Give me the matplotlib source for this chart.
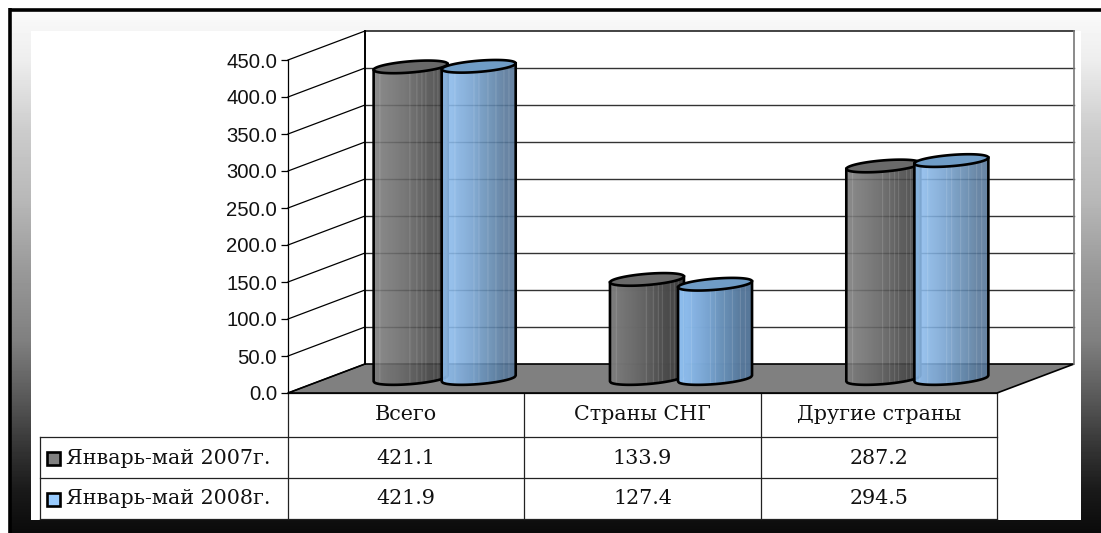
import numpy as np
import matplotlib
matplotlib.use('Agg')
import matplotlib.pyplot as plt
from matplotlib.colors import LinearSegmentedColormap
from matplotlib.collections import PolyCollection
from matplotlib.patches import Polygon, Rectangle
from matplotlib.transforms import Affine2D, IdentityTransform

categories = ['Всего', 'Страны СНГ', 'Другие страны']
series_names = ['Январь-май 2007г.', 'Январь-май 2008г.']
values_2007 = [421.1, 133.9, 287.2]
values_2008 = [421.9, 127.4, 294.5]
ticks = [0, 50, 100, 150, 200, 250, 300, 350, 400, 450]

W, H = 1101, 533
fig = plt.figure(figsize=(W / 100, H / 100), dpi=100, facecolor='white')

# page chrome in pixel coordinates
bg = fig.add_axes([0, 0, 1, 1])
bg.set_xlim(0, W); bg.set_ylim(H, 0); bg.axis('off')
stops = [(10, .98), (60, .93), (130, .80), (200, .72), (270, .60), (340, .50),
         (400, .34), (450, .20), (490, .10), (533, .04)]
ys = np.arange(10, 533)
grad = np.interp(ys, [s[0] for s in stops], [s[1] for s in stops])[:, None]
bg.imshow(grad, extent=(9, W, 533, 10), cmap='gray', vmin=0, vmax=1, aspect='auto', zorder=0)
bg.set_xlim(0, W); bg.set_ylim(H, 0)
bg.plot([10, W], [9.5, 9.5], color='black', lw=2.6, zorder=1, solid_capstyle='butt')
bg.plot([10, 10], [8, 533], color='black', lw=2.6, zorder=1, solid_capstyle='butt')
bg.add_patch(Rectangle((31, 31), 1050, 489, fc='white', ec='none', zorder=1))

# front plane of the 3-D box
FL, FR, FB, FT = 288, 997, 393, 60
DX, DY = 77, 29
ax = fig.add_axes([FL / W, 1 - FB / H, (FR - FL) / W, (FB - FT) / H])
ax.patch.set_alpha(0)
ax.set_xlim(0, 3); ax.set_ylim(0, 450)
for s in ax.spines.values():
    s.set_visible(False)
ax.spines['left'].set_visible(True)
ax.spines['left'].set_linewidth(0.9)
ax.set_xticks([])
ax.set_yticks(ticks)
ax.set_yticklabels([f'{t:.1f}' for t in ticks], family='Liberation Sans', fontsize=14.6, color='#111111')
ax.tick_params(axis='y', length=5, width=0.9, pad=3)

back = ax.transData + Affine2D().translate(DX, DY)
mid = ax.transData + Affine2D().translate(DX / 2, DY / 2)
px = IdentityTransform()

def P(x, y, tr=None):
    return (tr or ax.transData).transform((x, y))

# floor
floor = [P(0, 0), P(3, 0), P(3, 0, back), P(0, 0, back)]
ax.add_patch(Polygon(floor, closed=True, fc='#808080', ec='black', lw=1.2, transform=px, clip_on=False, zorder=1))
# back wall
for t in ticks[1:-1]:
    ax.plot([0, 3], [t, t], color='#333333', lw=1.0, transform=back, clip_on=False, zorder=1)
ax.plot([0, 3], [450, 450], color='#111111', lw=1.1, transform=back, clip_on=False, zorder=1)
ax.plot([0, 0], [0, 450], color='black', lw=1.4, transform=back, clip_on=False, zorder=1)
ax.plot([3, 3], [0, 450], color='#777777', lw=1.2, transform=back, clip_on=False, zorder=1)
# side wall
for t in ticks:
    a, b = P(0, t), P(0, t, back)
    ax.plot([a[0], b[0]], [a[1], b[1]], color='black', lw=0.9, transform=px, clip_on=False, zorder=1)

# cylinders
BAR_W = 74 / ((FR - FL) / 3)
OFFSET = 0.144
SEMI_B = 5.6
TILT = 0.08

gray_cmap = LinearSegmentedColormap.from_list('g', ['#7e7e7e', '#767676', '#6e6e6e', '#666666',
                                                    '#5a5a5a', '#4e4e4e', '#464646', '#3e3e3e'])
blue_cmap = LinearSegmentedColormap.from_list('b', ['#8fc0f2', '#8ab9e9', '#80addc', '#76a2cf',
                                                    '#6a93bc', '#6187ad', '#57789b', '#567699'])
gray_streaks = [.09, .49, .59, .65, .71, .82, .87, .93]
blue_streaks = [.07, .18, .44, .51, .63, .74, .84, .91]

def cylinder(xc, val, cmap, streaks, top_col, z):
    c0 = P(xc, 0, mid)
    c1 = P(xc, val, mid)
    a = (P(xc + BAR_W / 2, 0, mid) - c0)[0]
    n = 74
    u = np.linspace(0, 1, n + 1)
    t = 2 * np.pi - np.arccos(2 * u - 1)
    ex = a * np.cos(t)
    ey = a * TILT * np.cos(t) + SEMI_B * np.sin(t)
    bot = np.c_[c0[0] + ex, c0[1] + ey]
    top = np.c_[c1[0] + ex, c1[1] + ey]
    quads = [[bot[i], bot[i + 1], top[i + 1], top[i]] for i in range(n)]
    cols = []
    for i in range(n):
        col = np.array(cmap((u[i] + u[i + 1]) / 2))
        if any(u[i] <= s < u[i + 1] for s in streaks):
            col[:3] = col[:3] + (1 - col[:3]) * 0.14
        cols.append(col)
    ax.add_collection(PolyCollection(quads, facecolors=cols, edgecolors=cols, linewidths=0.2,
                                     transform=px, clip_on=False, zorder=z))
    outline = np.vstack([top[0], bot, top[-1]])
    ax.plot(outline[:, 0], outline[:, 1], color='black', lw=1.9, transform=px, clip_on=False,
            zorder=z + .1, solid_joinstyle='round')
    tt = np.linspace(0, 2 * np.pi, 120)
    ell = np.c_[c1[0] + a * np.cos(tt), c1[1] + a * TILT * np.cos(tt) + SEMI_B * np.sin(tt)]
    ax.add_patch(Polygon(ell, closed=True, fc=top_col, ec='black', lw=1.9, transform=px,
                         clip_on=False, zorder=z + .2))

for i in range(len(categories)):
    cylinder(i + .5 - OFFSET, values_2007[i], gray_cmap, gray_streaks, '#696969', 3 + i)
    cylinder(i + .5 + OFFSET, values_2008[i], blue_cmap, blue_streaks, '#6f9cc6', 3.5 + i)

# data table
ROWS = [393, 437, 478, 519]
LEG_L = 40
tf = dict(family='DejaVu Serif', fontsize=14.9, color='#111111', ha='center', va='center')
colx = [FL + (FR - FL) * i / 3 for i in range(4)]
for x in colx:
    bg.plot([x, x], [ROWS[0], ROWS[3]], color='#222222', lw=0.9, zorder=2)
bg.plot([LEG_L, LEG_L], [ROWS[1], ROWS[3]], color='#222222', lw=0.9, zorder=2)
bg.plot([FL, FR], [ROWS[0], ROWS[0]], color='#222222', lw=0.9, zorder=2)
for y in ROWS[1:]:
    bg.plot([LEG_L, FR], [y, y], color='#222222', lw=0.9, zorder=2)
text_y = [415, 458, 499]
for i, name in enumerate(categories):
    cx = (colx[i] + colx[i + 1]) / 2
    bg.text(cx, text_y[0], name, **tf)
    bg.text(cx, text_y[1], f'{values_2007[i]:.1f}', **tf)
    bg.text(cx, text_y[2], f'{values_2008[i]:.1f}', **tf)
swatch = ['#808080', '#99ccff']
for j, name in enumerate(series_names):
    y = text_y[j + 1]
    bg.add_patch(Rectangle((47, y - 6.5), 13, 13, fc=swatch[j], ec='black', lw=1.9, zorder=3))
    bg.text(66, y, name, **{**tf, 'ha': 'left'})

fig.savefig('out.png', dpi=100)
